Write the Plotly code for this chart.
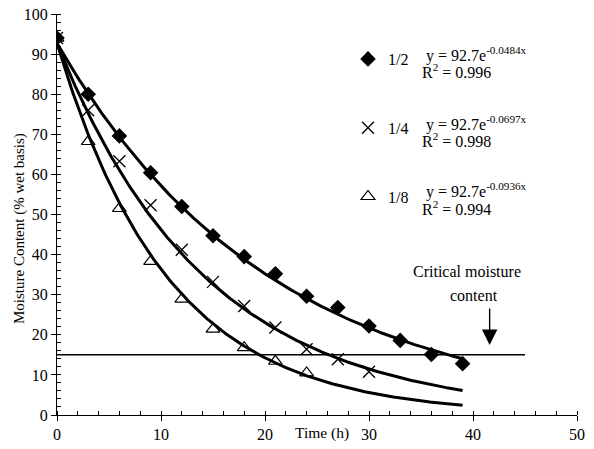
import numpy as np
import plotly.graph_objects as go

# Drying time (h) and moisture content (% wet basis) for three slice thicknesses
t_half = [0, 3, 6, 9, 12, 15, 18, 21, 24, 27, 30, 33, 36, 39]
mc_half = [94, 80, 69.6, 60.4, 52, 44.7, 39.5, 35.2, 29.6, 26.8, 22.2, 18.6, 15.1, 12.8]

t_quarter = [0, 3, 6, 9, 12, 15, 18, 21, 24, 27, 30]
mc_quarter = [94, 76, 63.3, 52.3, 41.2, 33.2, 27.2, 21.8, 16.4, 13.9, 10.8]

t_eighth = [0, 3, 6, 9, 12, 15, 18, 21, 24]
mc_eighth = [94, 68.2, 51.5, 38.3, 28.9, 21.4, 16.8, 13.4, 10.5]

# Exponential fits: y = a * exp(-k x)
fit_a = 92.7
fit_k = {"1/2": 0.0484, "1/4": 0.0697, "1/8": 0.0936}
fit_r2 = {"1/2": 0.996, "1/4": 0.998, "1/8": 0.994}
fit_t_max = 39

critical_mc = 15
critical_t = [0, 45]

x_ticks = [0, 10, 20, 30, 40, 50]
y_ticks = [0, 10, 20, 30, 40, 50, 60, 70, 80, 90, 100]

FONT = "Liberation Serif"

# plot-area geometry in pixels
L, T, W, H = 57, 14, 520, 401
def px(x):
    return (x - L) / W
def py(y):
    return 1 - (y - T) / H

fig = go.Figure()

t_fit = np.linspace(0, fit_t_max, 200)
for key in ["1/2", "1/4", "1/8"]:
    fig.add_trace(go.Scatter(
        x=t_fit, y=fit_a * np.exp(-fit_k[key] * t_fit), mode="lines",
        line=dict(color="black", width=3), showlegend=False, hoverinfo="skip"))

fig.add_trace(go.Scatter(
    x=critical_t, y=[critical_mc] * len(critical_t), mode="lines",
    line=dict(color="black", width=1.5), showlegend=False, hoverinfo="skip"))

series = [
    ("1/2", t_half, mc_half, dict(symbol="diamond", size=12, color="black",
                                   line=dict(color="black", width=0))),
    ("1/4", t_quarter, mc_quarter, dict(symbol="x-thin-open", size=12, color="black",
                                         line=dict(color="black", width=1.3))),
    ("1/8", t_eighth, mc_eighth, dict(symbol="triangle-up-open", size=12, color="black",
                                       line=dict(color="black", width=1.2))),
]
for name, xs, ys, mk in series:
    fig.add_trace(go.Scatter(x=xs, y=ys, mode="markers", name=name, marker=mk,
                             legendgroup=name))

# crossing major ticks: an overlay axis pair draws the inner half
axis_common = dict(showgrid=False, zeroline=False, showline=True, linecolor="black",
                   linewidth=1.3, tickcolor="black", tickwidth=1.2, automargin=False,
                   tickfont=dict(family=FONT, size=16, color="black"))

fig.update_layout(
    width=594, height=449,
    margin=dict(l=L, r=594 - L - W, t=T, b=449 - T - H, autoexpand=False),
    paper_bgcolor="white", plot_bgcolor="white",
    font=dict(family=FONT, color="black"),
    xaxis=dict(range=[0, 50], tickvals=x_ticks, ticks="outside", ticklen=5,
               minor=dict(dtick=2, ticks="inside", ticklen=4, tickcolor="black", tickwidth=1),
               **axis_common),
    yaxis=dict(range=[0, 100], tickvals=y_ticks, ticks="outside", ticklen=5,
               minor=dict(dtick=2, ticks="inside", ticklen=4, tickcolor="black", tickwidth=1),
               **axis_common),
    xaxis2=dict(range=[0, 50], tickvals=x_ticks, ticks="inside", ticklen=4,
                showticklabels=False, overlaying="x", showgrid=False, zeroline=False,
                showline=False, tickcolor="black", tickwidth=1.2, automargin=False),
    yaxis2=dict(range=[0, 100], tickvals=y_ticks, ticks="inside", ticklen=4,
                showticklabels=False, overlaying="y", showgrid=False, zeroline=False,
                showline=False, tickcolor="black", tickwidth=1.2, automargin=False),
    legend=dict(x=px(348), y=py(42), xanchor="left", yanchor="top",
                font=dict(family=FONT, size=16, color="black"),
                bgcolor="rgba(0,0,0,0)", tracegroupgap=45, traceorder="grouped",
                itemclick=False),
)
# dummy trace so the overlay axes render
fig.add_trace(go.Scatter(x=[None], y=[None], xaxis="x2", yaxis="y2",
                         showlegend=False, hoverinfo="skip"))

def to_mc(y_pixel):
    return (T + H - y_pixel) / H * 100

def label(x, y, text, size=16, **kw):
    return dict(x=px(x), y=py(y), xref="paper", yref="paper", text=text,
                showarrow=False, xanchor="center", yanchor="middle",
                font=dict(family=FONT, size=size, color="black"), **kw)

ann = []
eq_rows = [("1/2", 54, 71), ("1/4", 123, 140), ("1/8", 190, 208)]
for key, y_eq, y_r2 in eq_rows:
    ann.append(label(476, y_eq, f"y = {fit_a}e<sup>-{fit_k[key]}x</sup>"))
    ann.append(label(456, y_r2, f"R<sup>2</sup> = {fit_r2[key]}"))

ann.append(label(467, 271, "Critical moisture"))
ann.append(label(474, 295, "content"))
# downward arrow pointing at the critical line
ann.append(dict(x=41.6, y=to_mc(345), xref="x", yref="y",
                ax=41.6, ay=to_mc(307), axref="x", ayref="y",
                text="", showarrow=True, arrowhead=2, arrowsize=2.2, arrowwidth=1.4,
                arrowcolor="black"))

ann.append(label(322, 433, "Time (h)", size=15.5))
ann.append(label(19, 229, "Moisture Content (% wet basis)", size=15, textangle=-90))

fig.update_layout(annotations=ann)

fig.write_html("out.html")
